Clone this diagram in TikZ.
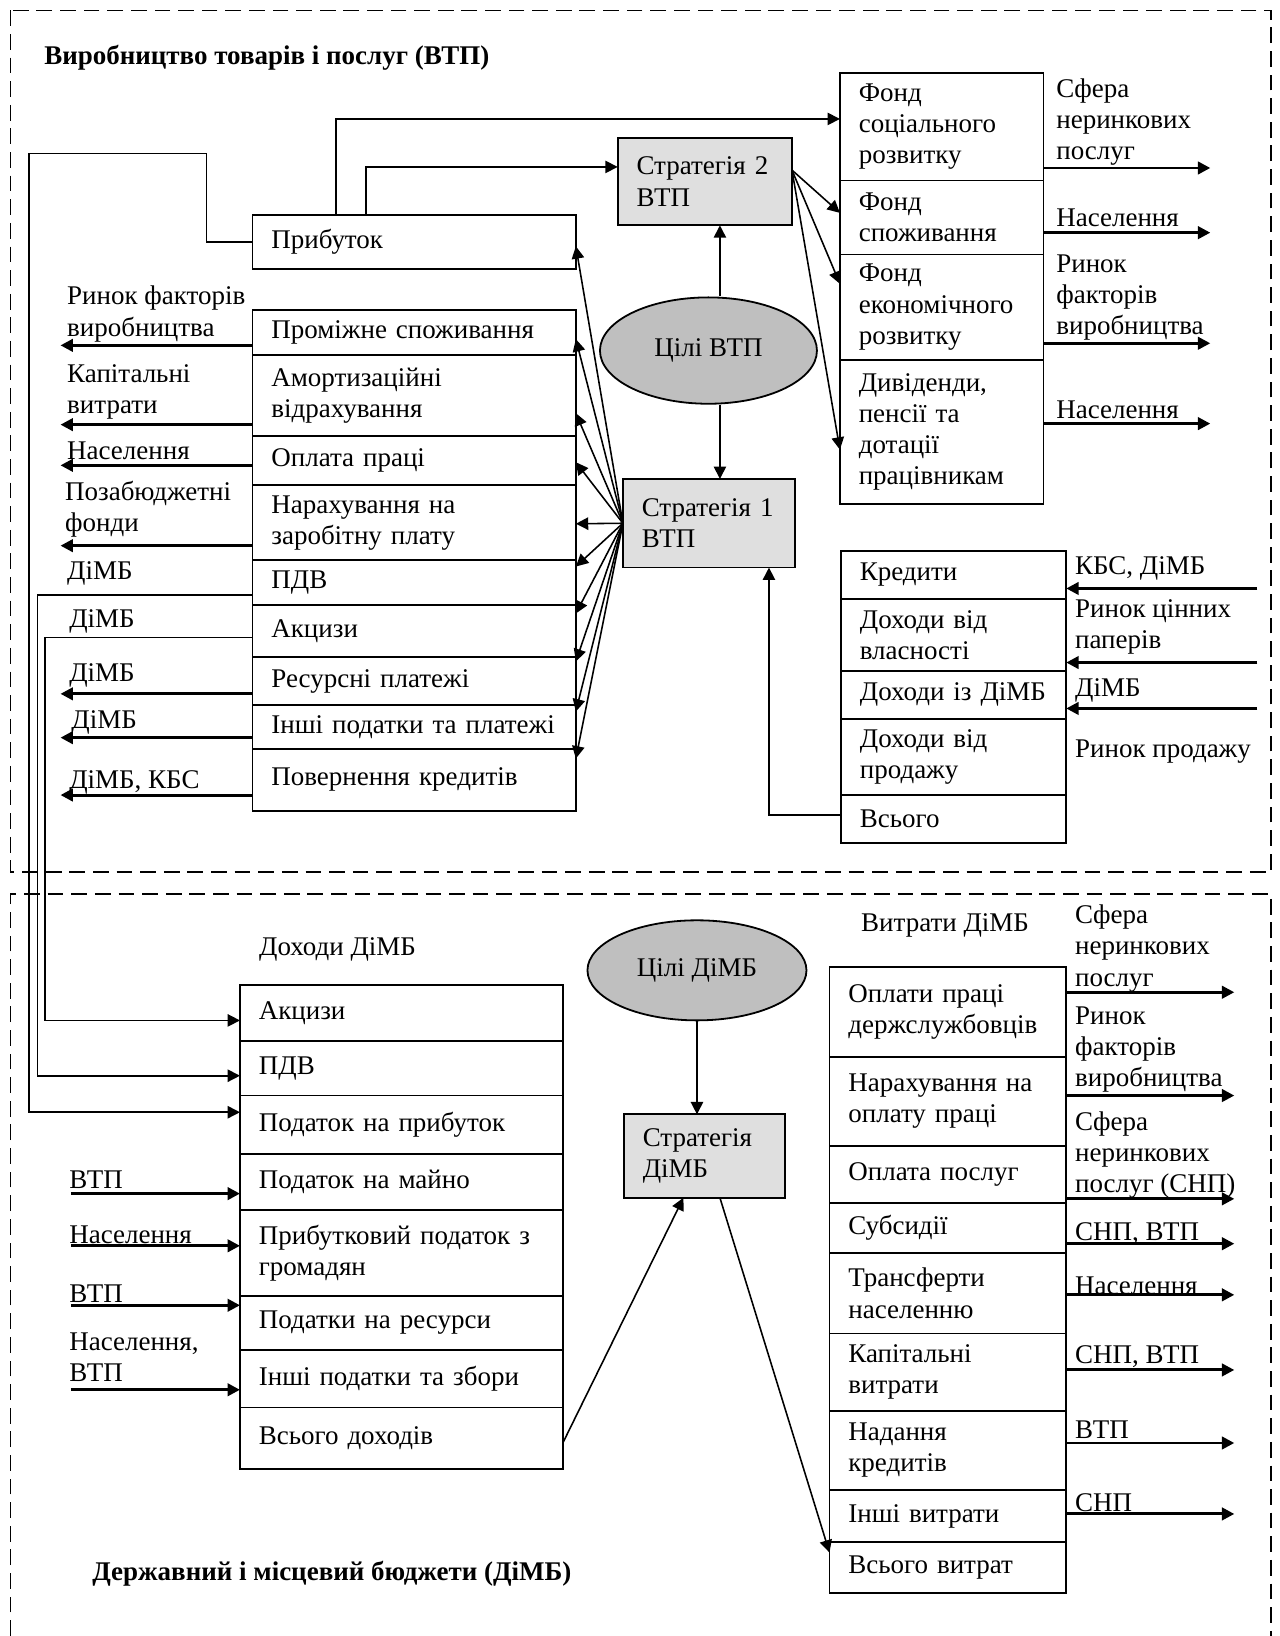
\documentclass[tikz,border=0pt]{standalone}
\usepackage{fontspec}
\setmainfont{Liberation Serif}
\usetikzlibrary{arrows.meta,shapes.geometric}

\tikzset{
  frame/.style={line width=0.7pt, dash pattern=on 7pt off 3.5pt},
  cell/.style={draw, rectangle, anchor=north west, outer sep=0pt,
    inner xsep=8.4pt, inner ysep=0pt, align=left, line width=0.8pt},
  rowh/.style={minimum height=#1*0.464pt},
  colL/.style={text width=127pt},
  colF/.style={text width=73.7pt},
  colK/.style={text width=83.4pt},
  colV/.style={text width=88.5pt},
  strat/.style={cell, fill=gray!25},
  goal/.style={draw, ellipse, fill=gray!50, inner sep=0pt, line width=0.8pt},
  lbl/.style={anchor=west, inner sep=0pt, align=left},
  link/.style={->, line width=0.7pt},
  flow/.style={->, line width=1.3pt}
}

\begin{document}
\begin{tikzpicture}[x=0.464pt, y=-0.464pt, font=\fontsize{12}{13.9}\selectfont,
  >={Triangle[length=5.5pt, width=5.5pt]}]

  \useasboundingbox (0,0) rectangle (1226,1568);

  % frames of the two sectors
  \draw [frame] (10,10) rectangle (1218,836);
  \draw [frame] (10,1568) -- (10,857) -- (1218,857) -- (1218,1568);

  \node [lbl] (tvtp) at (42,55) {\textbf{Виробництво товарів і послуг (ВТП)}};
  \node [lbl] (tdimb) at (88,1508) {\textbf{Державний і місцевий бюджети (ДіМБ)}};

  % costs of production
  \node [cell, colL, rowh=52] (pr) at (242,206) {Прибуток};
  \node [cell, colL, rowh=43] (c1) at (242,297) {Проміжне споживання};
  \node [cell, colL, rowh=78] (c2) at (c1.south west) {Амортизаційні\\відрахування};
  \node [cell, colL, rowh=47] (c3) at (c2.south west) {Оплата праці};
  \node [cell, colL, rowh=72] (c4) at (c3.south west) {Нарахування на\\заробітну плату};
  \node [cell, colL, rowh=43] (c5) at (c4.south west) {ПДВ};
  \node [cell, colL, rowh=50] (c6) at (c5.south west) {Акцизи};
  \node [cell, colL, rowh=46] (c7) at (c6.south west) {Ресурсні платежі};
  \node [cell, colL, rowh=42] (c8) at (c7.south west) {Інші податки та платежі};
  \node [cell, colL, rowh=59] (c9) at (c8.south west) {Повернення кредитів};

  % funds
  \node [cell, colF, rowh=103] (f1) at (805,70) {Фонд\\соціального\\розвитку};
  \node [cell, colF, rowh=71] (f2) at (f1.south west) {Фонд\\споживання};
  \node [cell, colF, rowh=101] (f3) at (f2.south west) {Фонд\\економічного\\розвитку};
  \node [cell, colF, rowh=138] (f4) at (f3.south west) {Дивіденди,\\пенсії та\\дотації\\працівникам};

  % incomes of production
  \node [cell, colK, rowh=46] (k1) at (806,528) {Кредити};
  \node [cell, colK, rowh=69] (k2) at (k1.south west) {Доходи від\\власності};
  \node [cell, colK, rowh=46] (k3) at (k2.south west) {Доходи із ДіМБ};
  \node [cell, colK, rowh=73] (k4) at (k3.south west) {Доходи від\\продажу};
  \node [cell, colK, rowh=46] (k5) at (k4.south west) {Всього};

  \node [strat, text width=60.7pt, rowh=84] (s2) at (592,132) {Стратегія 2\\ВТП};
  \node [strat, text width=59.8pt, rowh=85] (s1) at (597,459) {Стратегія 1\\ВТП};
  \node [goal, minimum width=96.5pt, minimum height=47.3pt] (gv) at (679,336) {Цілі ВТП};

  % budget incomes
  \node [lbl] (hd) at (248,910) {Доходи ДіМБ};
  \node [cell, colL, rowh=54] (d1) at (230,944) {Акцизи};
  \node [cell, colL, rowh=52] (d2) at (d1.south west) {ПДВ};
  \node [cell, colL, rowh=56] (d3) at (d2.south west) {Податок на прибуток};
  \node [cell, colL, rowh=54] (d4) at (d3.south west) {Податок на майно};
  \node [cell, colL, rowh=82] (d5) at (d4.south west) {Прибутковий податок з\\громадян};
  \node [cell, colL, rowh=52] (d6) at (d5.south west) {Податки на ресурси};
  \node [cell, colL, rowh=55] (d7) at (d6.south west) {Інші податки та збори};
  \node [cell, colL, rowh=59] (d8) at (d7.south west) {Всього доходів};

  \node [goal, minimum width=97.4pt, minimum height=44.5pt] (gd) at (668,930) {Цілі ДіМБ};
  \node [strat, text width=54.7pt, rowh=80] (sd) at (598,1068) {Стратегія\\ДіМБ};

  % budget expenses
  \node [lbl] (hv) at (825,887) {Витрати ДіМБ};
  \node [cell, colV, rowh=86] (v1) at (795,927) {Оплати праці\\держслужбовців};
  \node [cell, colV, rowh=85] (v2) at (v1.south west) {Нарахування на\\оплату праці};
  \node [cell, colV, rowh=55] (v3) at (v2.south west) {Оплата послуг};
  \node [cell, colV, rowh=48] (v4) at (v3.south west) {Субсидії};
  \node [cell, colV, rowh=77] (v5) at (v4.south west) {Трансферти\\населенню};
  \node [cell, colV, rowh=74] (v6) at (v5.south west) {Капітальні\\витрати};
  \node [cell, colV, rowh=76] (v7) at (v6.south west) {Надання\\кредитів};
  \node [cell, colV, rowh=50] (v8) at (v7.south west) {Інші витрати};
  \node [cell, colV, rowh=49] (v9) at (v8.south west) {Всього витрат};

  % labels
  \node [lbl] at (64,301) {Ринок факторів\\виробництва};
  \node [lbl] at (64,376) {Капітальні\\витрати};
  \node [lbl] at (64,432) {Населення};
  \node [lbl] at (62,488) {Позабюджетні\\фонди};
  \node [lbl] at (64,550) {ДіМБ};
  \node [lbl] at (66,596) {ДіМБ};
  \node [lbl] at (66,647) {ДіМБ};
  \node [lbl] at (68,692) {ДіМБ};
  \node [lbl] at (66,750) {ДіМБ, КБС};

  \node [lbl] at (1012,117) {Сфера\\неринкових\\послуг};
  \node [lbl] at (1012,209) {Населення};
  \node [lbl] at (1012,285) {Ринок\\факторів\\виробництва};
  \node [lbl] at (1012,393) {Населення};

  \node [lbl] at (1030,545) {КБС, ДіМБ};
  \node [lbl] at (1030,601) {Ринок цінних\\паперів};
  \node [lbl] at (1030,662) {ДіМБ};
  \node [lbl] at (1030,720) {Ринок продажу};

  \node [lbl] at (66,1131) {ВТП};
  \node [lbl] at (66,1183) {Населення};
  \node [lbl] at (66,1240) {ВТП};
  \node [lbl] at (66,1301) {Населення,\\ВТП};

  \node [lbl] at (1030,909) {Сфера\\неринкових\\послуг};
  \node [lbl] at (1030,1006) {Ринок\\факторів\\виробництва};
  \node [lbl] at (1030,1107) {Сфера\\неринкових\\послуг (СНП)};
  \node [lbl] at (1030,1182) {СНП, ВТП};
  \node [lbl] at (1030,1232) {Населення};
  \node [lbl] at (1030,1300) {СНП, ВТП};
  \node [lbl] at (1030,1370) {ВТП};
  \node [lbl] at (1030,1440) {СНП};

  % connectors of production
  \draw [link] (gv.north -| 690,0) -- (s2.south -| 690,0);
  \draw [link] (gv.south -| 690,0) -- (s1.north -| 690,0);

  \foreach \t/\y in {pr/236, c1/325, c2/396, c3/443, c4/502, c5/543, c6/588, c7/634, c8/682, c9/727}
    \draw [link] (s1.west) -- (\t.east |- 0,\y);

  \foreach \t/\y in {f2/204, f3/272, f4/431}
    \draw [link] (s2.east |- 0,163) -- (\t.west |- 0,\y);

  \draw [link] (pr.north -| 322,0) |- (f1.west |- 0,114);
  \draw [link] (pr.north -| 351,0) |- (s2.west |- 0,160);
  \draw [link] (k5.west |- 0,781) -| (s1.south -| 737,0);

  \foreach \t/\y in {c1/331, c2/407, c3/446, c4/523, c7/665, c8/707, c9/762} {
    \coordinate (e\t) at (58,\y);
    \draw [flow] (\t.west |- e\t) -- (e\t);
  }

  \foreach \t/\y in {f1/161, f2/223, f3/329, f4/406} {
    \coordinate (e\t) at (1160,\y);
    \draw [flow] (\t.east |- e\t) -- (e\t);
  }

  \foreach \t/\y in {k1/564, k2/635, k3/679} {
    \coordinate (e\t) at (1205,\y);
    \draw [flow] (e\t) -- (\t.east |- e\t);
  }

  % taxes to the budget
  \draw [link] (pr.west) -| (198,147) -| (28,1066) -- (d3.west |- 0,1066);
  \draw [link] (c5.west |- 0,570) -| (36,1031) -- (d2.west |- 0,1031);
  \draw [link] (c6.west |- 0,611) -| (43,978) -- (d1.west |- 0,978);

  \foreach \t/\y in {d4/1144, d5/1194, d6/1251, d7/1332} {
    \coordinate (e\t) at (68,\y);
    \draw [flow] (e\t) -- (\t.west |- e\t);
  }

  % connectors of the budget
  \draw [link] (gd.south) -- (gd.south |- sd.north);
  \draw [link] (d8.east |- 0,1382) -- (sd.south -| 655,0);
  \draw [link] (sd.south -| 690,0) -- (v9.west |- 0,1488);

  \foreach \t/\y in {v1/951, v2/1050, v3/1149, v4/1192, v5/1241, v6/1313, v7/1383, v8/1451} {
    \coordinate (e\t) at (1183,\y);
    \draw [flow] (\t.east |- e\t) -- (e\t);
  }

\end{tikzpicture}
\end{document}
